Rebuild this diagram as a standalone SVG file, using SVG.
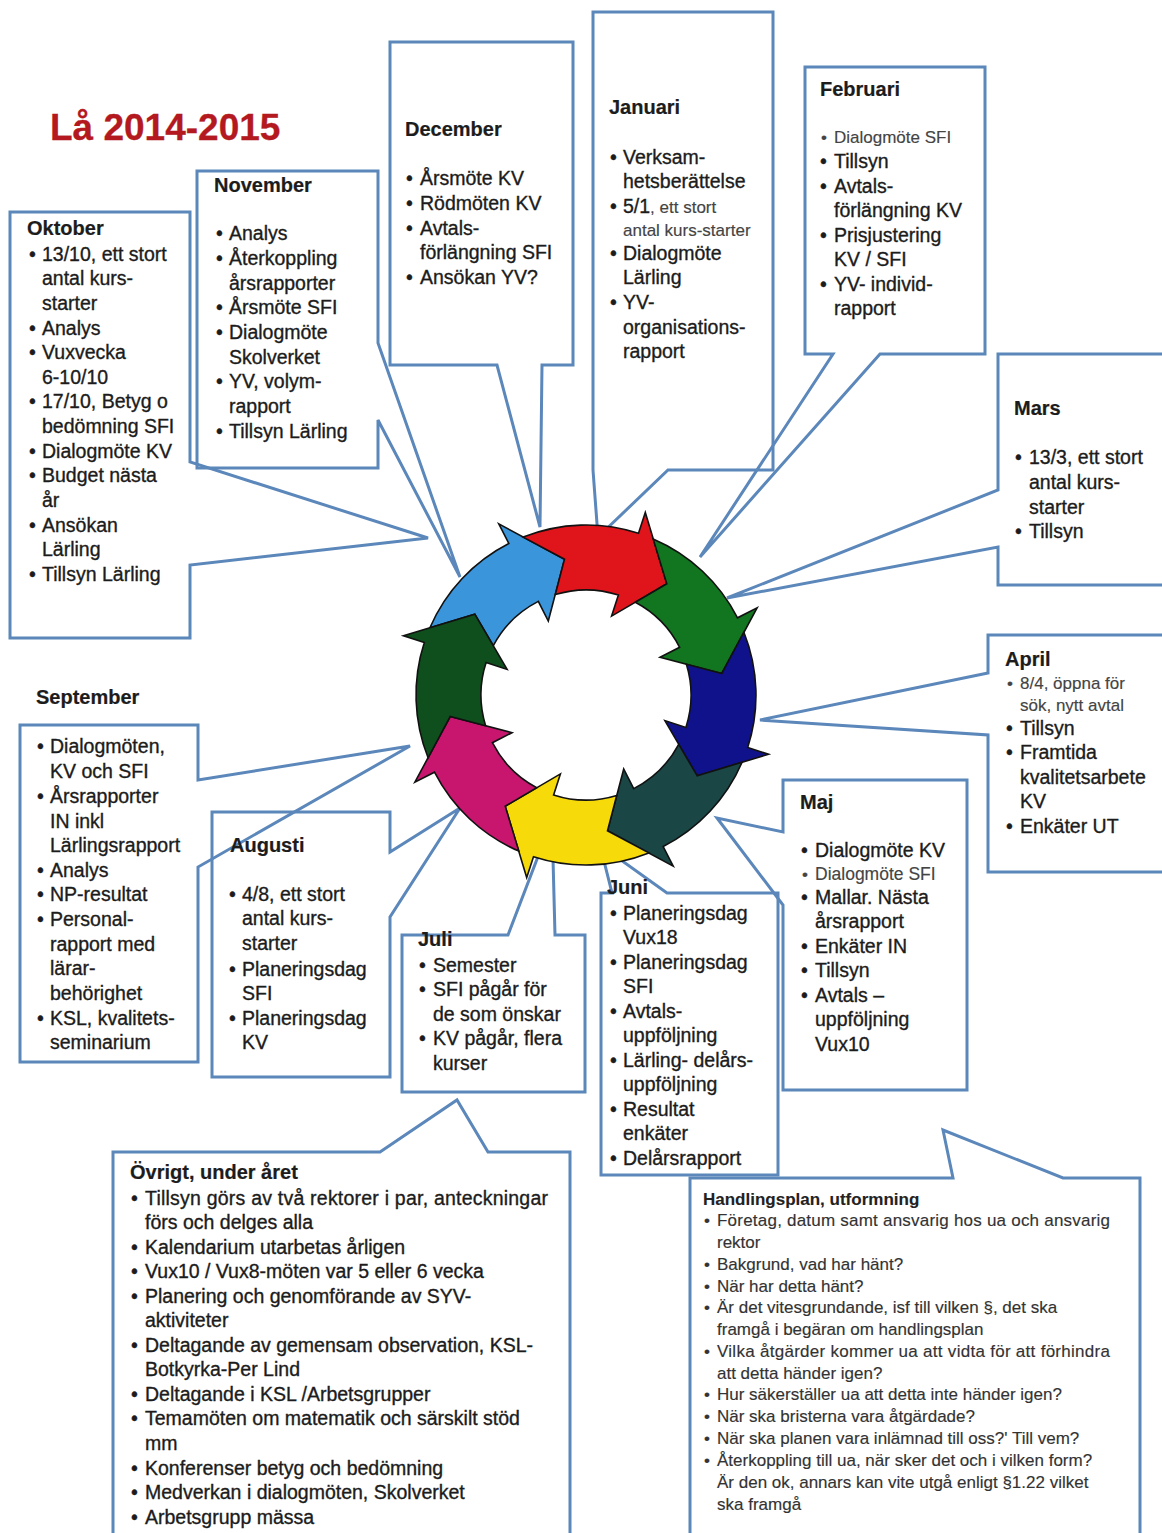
<svg xmlns="http://www.w3.org/2000/svg" width="1162" height="1533" viewBox="0 0 1162 1533">
<style>
text { font-family: "Liberation Sans", Arial, sans-serif; font-size: 19.5px; fill: #1c1c1c; stroke: #1c1c1c; stroke-width: 0.35px; }
.h { font-weight: bold; font-size: 20px; stroke-width: 0.2px; }
.s { font-size: 17px; fill: #444; stroke: #444; stroke-width: 0.15px; }
.hp { font-size: 17px; fill: #333; stroke: #333; stroke-width: 0.15px; }
.hph { font-size: 17px; font-weight: bold; fill: #222; stroke-width: 0.1px; }
.title { font-size: 37px; font-weight: bold; fill: #B3191F; stroke: #B3191F; stroke-width: 0.3px; }
.box { fill: none; stroke: #5B87BA; stroke-width: 3; stroke-linejoin: miter; }
.arr { stroke: #111; stroke-width: 1.6; stroke-linejoin: miter; }
</style>
<rect x="0" y="0" width="1162" height="1533" fill="#ffffff"/>
<text class="title" x="50" y="140">Lå 2014-2015</text>

<g id="connectors">
<path class="box" d="M10,212 H190 V462 L428,538 L190,565 V638 H10 Z"/>
<path class="box" d="M197,171 H378 V343 L460,577 L378,420 V468 H197 Z"/>
<path class="box" d="M390,42 H573 V365 H542 L540,527 L497,365 H390 Z"/>
<path class="box" d="M593,12 H773 V470 H668 L598,537 L593,470 Z"/>
<path class="box" d="M805,67 H985 V354 H880 L700,557 L833,354 H805 Z"/>
<path class="box" d="M1175,354 H998 V490 L727,598 L998,547 V585 H1175"/>
<path class="box" d="M1175,635 H988 V673 L760,720 L988,735 V872 H1175"/>
<path class="box" d="M783,780 H967 V1090 H783 V905 L717,818 L783,832 Z"/>
<path class="box" d="M601,893 H612 L600,845 L667,893 H778 V1175 H601 Z"/>
<path class="box" d="M402,935 H508 L552,820 L555,935 H585 V1092 H402 Z"/>
<path class="box" d="M212,812 H390 V852 L460,808 L390,917 V1077 H212 Z"/>
<path class="box" d="M20,725 H198 V780 L410,746 L198,867 V1062 H20 Z"/>
<path class="box" d="M113,1545 V1152 H380 L457,1100 L488,1152 H570 V1545"/>
<path class="box" d="M690,1545 V1178 H953 L943,1130 L1063,1178 H1140 V1545"/>
</g>

<g id="wheel">
<path class="arr" fill="#3A95DA" d="M429.9,627.8 A170,170 0 0 1 508.8,543.5 L498.8,523.9 L564.5,559.2 L548.3,621.0 L538.3,601.4 A105,105 0 0 0 493.3,645.7 L474.8,614.2 Z"/>
<path class="arr" fill="#E0141B" d="M523.2,537.1 A170,170 0 0 1 638.5,533.3 L645.3,512.4 L666.8,583.8 L611.6,616.1 L618.4,595.1 A105,105 0 0 0 555.3,594.6 L564.5,559.2 Z"/>
<path class="arr" fill="#12751F" d="M653.2,538.9 A170,170 0 0 1 737.5,617.8 L757.1,607.8 L721.8,673.5 L660.0,657.3 L679.6,647.3 A105,105 0 0 0 635.3,602.3 L666.8,583.8 Z"/>
<path class="arr" fill="#10128C" d="M743.9,632.2 A170,170 0 0 1 747.7,747.5 L768.6,754.3 L697.2,775.8 L664.9,720.6 L685.9,727.4 A105,105 0 0 0 686.4,664.3 L721.8,673.5 Z"/>
<path class="arr" fill="#1B4646" d="M742.1,762.2 A170,170 0 0 1 663.2,846.5 L673.2,866.1 L607.5,830.8 L623.7,769.0 L633.7,788.6 A105,105 0 0 0 678.7,744.3 L697.2,775.8 Z"/>
<path class="arr" fill="#F7DA0A" d="M648.8,852.9 A170,170 0 0 1 533.5,856.7 L526.7,877.6 L505.2,806.2 L560.4,773.9 L553.6,794.9 A105,105 0 0 0 616.7,795.4 L607.5,830.8 Z"/>
<path class="arr" fill="#C8166F" d="M518.8,851.1 A170,170 0 0 1 434.5,772.2 L414.9,782.2 L450.2,716.5 L512.0,732.7 L492.4,742.7 A105,105 0 0 0 536.7,787.7 L505.2,806.2 Z"/>
<path class="arr" fill="#0F4F1E" d="M428.1,757.8 A170,170 0 0 1 424.3,642.5 L403.4,635.7 L474.8,614.2 L507.1,669.4 L486.1,662.6 A105,105 0 0 0 485.6,725.7 L450.2,716.5 Z"/>
</g>

<g id="oktober">
<text class="h" x="27" y="235">Oktober</text>
<text x="29" y="261">•</text><text x="42" y="261">13/10, ett stort</text>
<text x="42" y="285">antal kurs-</text>
<text x="42" y="310">starter</text>
<text x="29" y="335">•</text><text x="42" y="335">Analys</text>
<text x="29" y="359">•</text><text x="42" y="359">Vuxvecka</text>
<text x="42" y="384">6-10/10</text>
<text x="29" y="408">•</text><text x="42" y="408">17/10, Betyg o</text>
<text x="42" y="433">bedömning SFI</text>
<text x="29" y="458">•</text><text x="42" y="458">Dialogmöte KV</text>
<text x="29" y="482">•</text><text x="42" y="482">Budget nästa</text>
<text x="42" y="507">år</text>
<text x="29" y="532">•</text><text x="42" y="532">Ansökan</text>
<text x="42" y="556">Lärling</text>
<text x="29" y="581">•</text><text x="42" y="581">Tillsyn Lärling</text>
</g>

<g id="november">
<text class="h" x="214" y="192">November</text>
<text x="216" y="240">•</text><text x="229" y="240">Analys</text>
<text x="216" y="265">•</text><text x="229" y="265">Återkoppling</text>
<text x="229" y="290">årsrapporter</text>
<text x="216" y="314">•</text><text x="229" y="314">Årsmöte SFI</text>
<text x="216" y="339">•</text><text x="229" y="339">Dialogmöte</text>
<text x="229" y="364">Skolverket</text>
<text x="216" y="388">•</text><text x="229" y="388">YV, volym-</text>
<text x="229" y="413">rapport</text>
<text x="216" y="438">•</text><text x="229" y="438">Tillsyn Lärling</text>
</g>

<g id="december">
<text class="h" x="405" y="136">December</text>
<text x="406" y="185">•</text><text x="420" y="185">Årsmöte KV</text>
<text x="406" y="210">•</text><text x="420" y="210">Rödmöten KV</text>
<text x="406" y="235">•</text><text x="420" y="235">Avtals-</text>
<text x="420" y="259">förlängning SFI</text>
<text x="406" y="284">•</text><text x="420" y="284">Ansökan YV?</text>
</g>

<g id="januari">
<text class="h" x="609" y="114">Januari</text>
<text x="610" y="164">•</text><text x="623" y="164">Verksam-</text>
<text x="623" y="188">hetsberättelse</text>
<text x="610" y="213">•</text><text x="623" y="213">5/1<tspan class="s">, ett stort</tspan></text>
<text class="s" x="623" y="236">antal kurs-starter</text>
<text x="610" y="260">•</text><text x="623" y="260">Dialogmöte</text>
<text x="623" y="284">Lärling</text>
<text x="610" y="309">•</text><text x="623" y="309">YV-</text>
<text x="623" y="334">organisations-</text>
<text x="623" y="358">rapport</text>
</g>

<g id="februari">
<text class="h" x="820" y="96">Februari</text>
<text class="s" x="821" y="143">•</text><text class="s" x="834" y="143">Dialogmöte  SFI</text>
<text x="820" y="168">•</text><text x="834" y="168">Tillsyn</text>
<text x="820" y="193">•</text><text x="834" y="193">Avtals-</text>
<text x="834" y="217">förlängning KV</text>
<text x="820" y="242">•</text><text x="834" y="242">Prisjustering</text>
<text x="834" y="266">KV / SFI</text>
<text x="820" y="291">•</text><text x="834" y="291">YV- individ-</text>
<text x="834" y="315">rapport</text>
</g>

<g id="mars">
<text class="h" x="1014" y="415">Mars</text>
<text x="1015" y="464">•</text><text x="1029" y="464">13/3, ett stort</text>
<text x="1029" y="489">antal kurs-</text>
<text x="1029" y="514">starter</text>
<text x="1015" y="538">•</text><text x="1029" y="538">Tillsyn</text>
</g>

<g id="april">
<text class="h" x="1005" y="666">April</text>
<text class="s" x="1007" y="689">•</text><text class="s" x="1020" y="689">8/4, öppna för</text>
<text class="s" x="1020" y="711">sök, nytt avtal</text>
<text x="1006" y="735">•</text><text x="1020" y="735">Tillsyn</text>
<text x="1006" y="759">•</text><text x="1020" y="759">Framtida</text>
<text x="1020" y="784">kvalitetsarbete</text>
<text x="1020" y="808">KV</text>
<text x="1006" y="833">•</text><text x="1020" y="833">Enkäter UT</text>
</g>

<g id="maj">
<text class="h" x="800" y="809">Maj</text>
<text x="801" y="857">•</text><text x="815" y="857">Dialogmöte KV</text>
<text class="s" x="802" y="880">•</text><text class="s" x="815" y="880" style="font-size:17.5px">Dialogmöte  SFI</text>
<text x="801" y="904">•</text><text x="815" y="904">Mallar. Nästa</text>
<text x="815" y="928">årsrapport</text>
<text x="801" y="953">•</text><text x="815" y="953">Enkäter IN</text>
<text x="801" y="977">•</text><text x="815" y="977">Tillsyn</text>
<text x="801" y="1002">•</text><text x="815" y="1002">Avtals –</text>
<text x="815" y="1026">uppföljning</text>
<text x="815" y="1051">Vux10</text>
</g>

<g id="juni">
<text class="h" x="607" y="894">Juni</text>
<text x="610" y="920">•</text><text x="623" y="920">Planeringsdag</text>
<text x="623" y="944">Vux18</text>
<text x="610" y="969">•</text><text x="623" y="969">Planeringsdag</text>
<text x="623" y="993">SFI</text>
<text x="610" y="1018">•</text><text x="623" y="1018">Avtals-</text>
<text x="623" y="1042">uppföljning</text>
<text x="610" y="1067">•</text><text x="623" y="1067">Lärling- delårs-</text>
<text x="623" y="1091">uppföljning</text>
<text x="610" y="1116">•</text><text x="623" y="1116">Resultat</text>
<text x="623" y="1140">enkäter</text>
<text x="610" y="1165">•</text><text x="623" y="1165">Delårsrapport</text>
</g>

<g id="juli">
<text class="h" x="418" y="946">Juli</text>
<text x="419" y="972">•</text><text x="433" y="972">Semester</text>
<text x="419" y="996">•</text><text x="433" y="996">SFI pågår för</text>
<text x="433" y="1021">de som önskar</text>
<text x="419" y="1045">•</text><text x="433" y="1045">KV pågår, flera</text>
<text x="433" y="1070">kurser</text>
</g>

<g id="augusti">
<text class="h" x="230" y="852">Augusti</text>
<text x="229" y="901">•</text><text x="242" y="901">4/8, ett stort</text>
<text x="242" y="925">antal kurs-</text>
<text x="242" y="950">starter</text>
<text x="229" y="976">•</text><text x="242" y="976">Planeringsdag</text>
<text x="242" y="1000">SFI</text>
<text x="229" y="1025">•</text><text x="242" y="1025">Planeringsdag</text>
<text x="242" y="1049">KV</text>
</g>

<g id="september">
<text class="h" x="36" y="704">September</text>
<text x="37" y="753">•</text><text x="50" y="753">Dialogmöten,</text>
<text x="50" y="778">KV och SFI</text>
<text x="37" y="803">•</text><text x="50" y="803">Årsrapporter</text>
<text x="50" y="828">IN inkl</text>
<text x="50" y="852">Lärlingsrapport</text>
<text x="37" y="877">•</text><text x="50" y="877">Analys</text>
<text x="37" y="901">•</text><text x="50" y="901">NP-resultat</text>
<text x="37" y="926">•</text><text x="50" y="926">Personal-</text>
<text x="50" y="951">rapport med</text>
<text x="50" y="975">lärar-</text>
<text x="50" y="1000">behörighet</text>
<text x="37" y="1025">•</text><text x="50" y="1025">KSL, kvalitets-</text>
<text x="50" y="1049">seminarium</text>
</g>

<g id="ovrigt">
<text class="h" x="130" y="1179">Övrigt, under året</text>
<text x="131" y="1205">•</text><text x="145" y="1205" textLength="403">Tillsyn görs  av två rektorer i par, anteckningar</text>
<text x="145" y="1229">förs och delges alla</text>
<text x="131" y="1254">•</text><text x="145" y="1254">Kalendarium utarbetas årligen</text>
<text x="131" y="1278">•</text><text x="145" y="1278">Vux10 / Vux8-möten var 5 eller 6 vecka</text>
<text x="131" y="1303">•</text><text x="145" y="1303">Planering och genomförande av SYV-</text>
<text x="145" y="1327">aktiviteter</text>
<text x="131" y="1352">•</text><text x="145" y="1352">Deltagande av gemensam observation, KSL-</text>
<text x="145" y="1376">Botkyrka-Per Lind</text>
<text x="131" y="1401">•</text><text x="145" y="1401">Deltagande i KSL /Arbetsgrupper</text>
<text x="131" y="1425">•</text><text x="145" y="1425">Temamöten om matematik och särskilt stöd</text>
<text x="145" y="1450">mm</text>
<text x="131" y="1475">•</text><text x="145" y="1475">Konferenser betyg och bedömning</text>
<text x="131" y="1499">•</text><text x="145" y="1499">Medverkan i dialogmöten, Skolverket</text>
<text x="131" y="1524">•</text><text x="145" y="1524">Arbetsgrupp mässa</text>
</g>

<g id="handlingsplan">
<text class="hph" x="703" y="1205">Handlingsplan, utformning</text>
<text class="hp" x="704" y="1226">•</text><text class="hp" x="717" y="1226" textLength="393">Företag, datum samt ansvarig hos ua och ansvarig</text>
<text class="hp" x="717" y="1248">rektor</text>
<text class="hp" x="704" y="1270">•</text><text class="hp" x="717" y="1270">Bakgrund, vad har hänt?</text>
<text class="hp" x="704" y="1292">•</text><text class="hp" x="717" y="1292">När har detta hänt?</text>
<text class="hp" x="704" y="1313">•</text><text class="hp" x="717" y="1313">Är det vitesgrundande,  isf  till vilken §, det ska</text>
<text class="hp" x="717" y="1335">framgå i begäran om handlingsplan</text>
<text class="hp" x="704" y="1357">•</text><text class="hp" x="717" y="1357" textLength="393">Vilka åtgärder kommer ua att vidta för att förhindra</text>
<text class="hp" x="717" y="1379">att detta händer igen?</text>
<text class="hp" x="704" y="1400">•</text><text class="hp" x="717" y="1400">Hur säkerställer ua att detta inte händer igen?</text>
<text class="hp" x="704" y="1422">•</text><text class="hp" x="717" y="1422">När ska bristerna vara åtgärdade?</text>
<text class="hp" x="704" y="1444">•</text><text class="hp" x="717" y="1444">När ska planen vara inlämnad till oss?' Till vem?</text>
<text class="hp" x="704" y="1466">•</text><text class="hp" x="717" y="1466">Återkoppling till ua, när sker det och i vilken form?</text>
<text class="hp" x="717" y="1488">Är den ok, annars kan vite utgå enligt  §1.22 vilket</text>
<text class="hp" x="717" y="1510">ska framgå</text>
</g>
</svg>
